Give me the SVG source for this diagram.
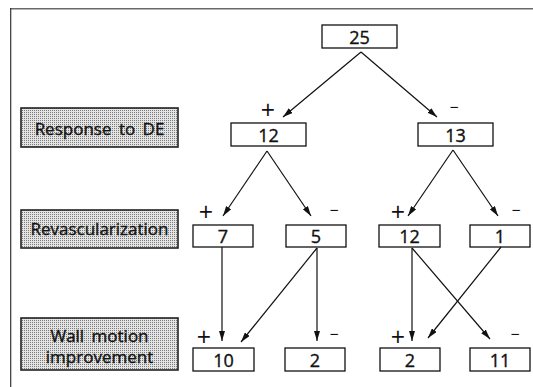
<svg xmlns="http://www.w3.org/2000/svg" width="533" height="387" viewBox="0 0 533 387">
<style>
text{font-family:"Open Sans","Liberation Sans",sans-serif;fill:#111;stroke:#111;stroke-width:0.35}
.num{font-size:18px;text-anchor:middle}
.lab{font-size:17px;text-anchor:middle;word-spacing:3px}
.sign{font-size:25px;text-anchor:middle;stroke:none}
.minus{font-size:16px;text-anchor:middle;stroke:none}
.box{fill:#fff;stroke:#111;stroke-width:1.3}
.lbox{fill:url(#dots);stroke:#222;stroke-width:1.6}
.conn line{stroke:#111;stroke-width:1.2;marker-end:url(#ah)}
</style>
<defs>
<pattern id="dots" width="2" height="2" patternUnits="userSpaceOnUse">
<rect width="2" height="2" fill="#e4e4e4"/>
<rect width="1" height="1" fill="#7a7a7a"/>
</pattern>
<marker id="ah" viewBox="0 0 10 6" refX="10" refY="3" markerWidth="10" markerHeight="6" markerUnits="userSpaceOnUse" orient="auto">
<path d="M0,0 L10,3 L0,6 z" fill="#111"/>
</marker>
</defs>
<rect width="533" height="387" fill="#fff"/>
<g id="frame">
<line x1="10" y1="8.7" x2="533" y2="8.7" stroke="#6a6a6a" stroke-width="1.6"/>
<line x1="10.7" y1="8" x2="10.7" y2="387" stroke="#333" stroke-width="1.2"/>
</g>
<g id="label-response"><rect class="lbox" x="21" y="108" width="157" height="39"/><text class="lab" x="99.5" y="135">Response to DE</text></g>
<g id="label-revasc"><rect class="lbox" x="21" y="210" width="157" height="38"/><text class="lab" x="99.5" y="235">Revascularization</text></g>
<g id="label-wall"><rect class="lbox" x="21" y="318" width="157" height="52"/><text class="lab" x="99.5" y="342">Wall motion</text><text class="lab" x="99.5" y="363">improvement</text></g>
<g id="n25"><rect class="box" x="322" y="25" width="75" height="23"/><text class="num" x="359.5" y="44">25</text></g>
<g id="n12a"><rect class="box" x="231" y="123" width="75" height="23"/><text class="num" x="268.5" y="142">12</text></g>
<g id="n13"><rect class="box" x="418" y="123" width="75" height="23"/><text class="num" x="455.5" y="142">13</text></g>
<g id="n7"><rect class="box" x="193" y="225" width="60" height="22"/><text class="num" x="223" y="243">7</text></g>
<g id="n5"><rect class="box" x="286" y="225" width="60" height="22"/><text class="num" x="316" y="243">5</text></g>
<g id="n12b"><rect class="box" x="379" y="225" width="61" height="22"/><text class="num" x="409.5" y="243">12</text></g>
<g id="n1"><rect class="box" x="470" y="225" width="60" height="22"/><text class="num" x="500" y="243">1</text></g>
<g id="n10"><rect class="box" x="193" y="348" width="61" height="23"/><text class="num" x="223.5" y="367">10</text></g>
<g id="n2a"><rect class="box" x="285" y="348" width="60" height="23"/><text class="num" x="315" y="367">2</text></g>
<g id="n2b"><rect class="box" x="380" y="348" width="60" height="23"/><text class="num" x="410" y="367">2</text></g>
<g id="n11"><rect class="box" x="470" y="348" width="60" height="23"/><text class="num" x="500" y="367">11</text></g>
<g id="signs">
<text class="sign" x="268" y="119">+</text>
<text class="minus" x="454" y="113">−</text>
<text class="sign" x="206" y="221">+</text>
<text class="minus" x="334" y="216">−</text>
<text class="sign" x="398" y="221">+</text>
<text class="minus" x="516" y="216">−</text>
<text class="sign" x="204" y="346">+</text>
<text class="minus" x="334" y="340">−</text>
<text class="sign" x="398" y="346">+</text>
<text class="minus" x="515" y="340">−</text>
</g>
<g id="connectors" class="conn">
<line x1="361" y1="52" x2="283" y2="117"/>
<line x1="361" y1="52" x2="437" y2="117"/>
<line x1="267" y1="151" x2="223" y2="216"/>
<line x1="267" y1="151" x2="311" y2="216"/>
<line x1="453" y1="150" x2="408" y2="216"/>
<line x1="453" y1="150" x2="498" y2="216"/>
<line x1="222" y1="247" x2="222" y2="341"/>
<line x1="317" y1="248" x2="317" y2="341"/>
<line x1="317" y1="248" x2="241" y2="342"/>
<line x1="412" y1="248" x2="412" y2="341"/>
<line x1="412" y1="248" x2="490" y2="339"/>
<line x1="501" y1="247" x2="428" y2="338"/>
</g>
</svg>
